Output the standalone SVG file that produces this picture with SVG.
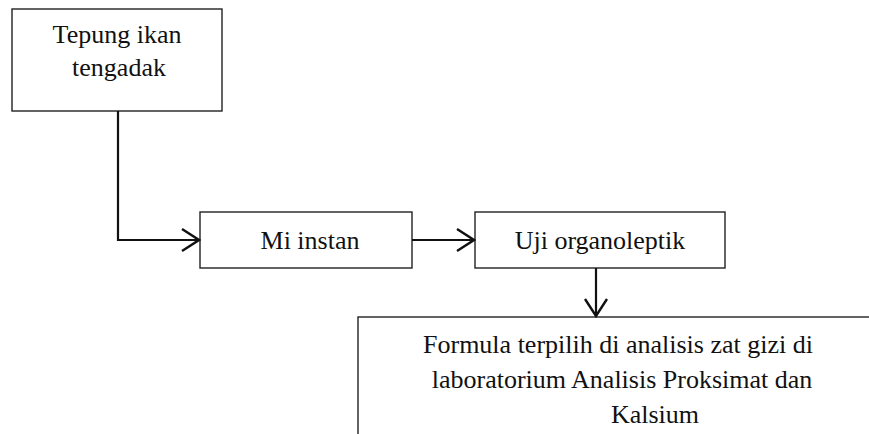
<svg xmlns="http://www.w3.org/2000/svg" width="869" height="434" viewBox="0 0 869 434">
<style>
.box{fill:#fff;stroke:#222;stroke-width:1.4}
.t{font-size:26px;fill:#111;text-anchor:middle}
.c{fill:none;stroke:#111;stroke-width:2.2}
</style>
<defs>
<marker id="ah" markerWidth="20" markerHeight="26" refX="18" refY="12" orient="auto" markerUnits="userSpaceOnUse">
<path d="M1,1 L18,12 L1,23" fill="none" stroke="#111" stroke-width="2.4"/>
</marker>
</defs>
<rect width="869" height="434" fill="#fff"/>
<g font-family="Liberation Serif, DejaVu Serif, serif">
<g id="n1">
<rect class="box" x="12" y="9" width="210" height="102"/>
<text class="t" x="117" y="43">Tepung ikan</text>
<text class="t" x="119" y="76">tengadak</text>
</g>
<g id="n2">
<rect class="box" x="200" y="212" width="212" height="56"/>
<text class="t" x="310" y="249">Mi instan</text>
</g>
<g id="n3">
<rect class="box" x="475" y="212" width="250" height="56"/>
<text class="t" x="600" y="249">Uji organoleptik</text>
</g>
<g id="n4">
<rect class="box" x="358" y="317" width="600" height="140"/>
<text class="t" x="618" y="353">Formula terpilih di analisis zat gizi di</text>
<text class="t" x="622" y="388">laboratorium Analisis Proksimat dan</text>
<text class="t" x="655" y="423">Kalsium</text>
</g>
</g>
<g id="connectors">
<path class="c" d="M118,111 V240 H199" marker-end="url(#ah)"/>
<path class="c" d="M412,240 H474" marker-end="url(#ah)"/>
<path class="c" d="M596,268 V316" marker-end="url(#ah)"/>
</g>
</svg>
